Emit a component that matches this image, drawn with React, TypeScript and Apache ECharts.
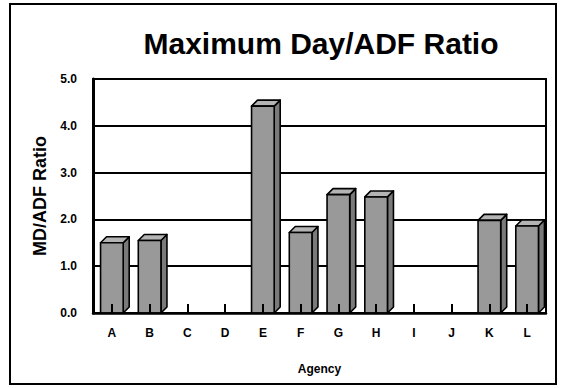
import React, { useEffect, useRef } from "react";
import * as echarts from "echarts";

const agencies = ["A", "B", "C", "D", "E", "F", "G", "H", "I", "J", "K", "L"];
const ratios = [1.5, 1.55, 0, 0, 4.42, 1.72, 2.53, 2.48, 0, 0, 1.98, 1.86];
const yTicks = [0, 1, 2, 3, 4, 5];

const FONT = "'Liberation Sans', Arial, sans-serif";
const DEPTH = 6;

export default function App() {
  const ref = useRef<HTMLDivElement>(null);

  useEffect(() => {
    if (!ref.current) return;
    const chart = echarts.init(ref.current, null, { renderer: "svg" });

    // 3D column: front, top and right side faces
    const renderColumn = (params: any, api: any) => {
      const idx = api.value(0);
      const v = api.value(1);
      if (!(v > 0)) return null;
      const base = api.coord([idx, 0]);
      const t = api.coord([idx, v])[1];
      const bw = api.size([1, 0])[0] * 0.6;
      const l = base[0] - bw / 2;
      const r = base[0] + bw / 2;
      const b = base[1];
      const stroke = { stroke: "#000", lineWidth: 1.6, lineJoin: "round" };
      return {
        type: "group",
        children: [
          {
            type: "polygon",
            shape: { points: [[r, t], [r + DEPTH, t - DEPTH], [r + DEPTH, b - DEPTH], [r, b]] },
            style: { fill: "#7a7a7a", ...stroke },
          },
          {
            type: "polygon",
            shape: { points: [[l, t], [l + DEPTH, t - DEPTH], [r + DEPTH, t - DEPTH], [r, t]] },
            style: { fill: "#b4b4b4", ...stroke },
          },
          {
            type: "rect",
            shape: { x: l, y: t, width: r - l, height: b - t },
            style: { fill: "#999999", ...stroke },
          },
        ],
      };
    };

    chart.setOption({
      animation: false,
      backgroundColor: "#fff",
      title: {
        text: "Maximum Day/ADF Ratio",
        left: 316,
        top: 23,
        textAlign: "center",
        textStyle: { fontFamily: FONT, fontWeight: "bold", fontSize: 30, color: "#000" },
      },
      graphic: [
        {
          type: "rect",
          shape: { x: 10, y: 4, width: 546, height: 380 },
          style: { fill: "none", stroke: "#000", lineWidth: 2 },
          z: 100,
        },
      ],
      grid: {
        left: 93,
        right: 16,
        top: 79,
        bottom: 75,
        show: true,
        borderColor: "#000",
        borderWidth: 2,
      },
      xAxis: {
        type: "category",
        data: agencies,
        name: "Agency",
        nameLocation: "middle",
        nameGap: 50,
        nameTextStyle: { fontFamily: FONT, fontWeight: "bold", fontSize: 12, color: "#000" },
        z: 10,
        axisLine: { show: true, lineStyle: { color: "#000", width: 2.5 } },
        axisTick: {
          show: true,
          alignWithLabel: true,
          inside: true,
          length: 9,
          lineStyle: { color: "#000", width: 2 },
        },
        axisLabel: {
          margin: 14,
          fontFamily: FONT,
          fontWeight: "bold",
          fontSize: 12,
          color: "#000",
        },
        splitLine: { show: false },
      },
      yAxis: {
        type: "value",
        min: 0,
        max: 5,
        interval: 1,
        name: "MD/ADF Ratio",
        nameLocation: "middle",
        nameGap: 44,
        nameRotate: 90,
        nameTextStyle: { fontFamily: FONT, fontWeight: "bold", fontSize: 18, color: "#000" },
        axisLine: { show: true, lineStyle: { color: "#000", width: 3 } },
        axisTick: { show: false },
        axisLabel: {
          margin: 16,
          fontFamily: FONT,
          fontWeight: "bold",
          fontSize: 12,
          color: "#000",
          formatter: (v: number) => (yTicks.includes(v) ? v.toFixed(1) : ""),
        },
        splitLine: { show: true, lineStyle: { color: "#000", width: 2 } },
      },
      series: [
        {
          type: "custom",
          name: "MD/ADF Ratio",
          renderItem: renderColumn,
          data: ratios.map((v, i) => [i, v]),
          encode: { x: 0, y: 1 },
          z: 2,
        },
      ],
    });

    return () => chart.dispose();
  }, []);

  return (
    <div
      ref={ref}
      style={{ position: "absolute", left: 0, top: 0, width: 562, height: 388 }}
    />
  );
}
